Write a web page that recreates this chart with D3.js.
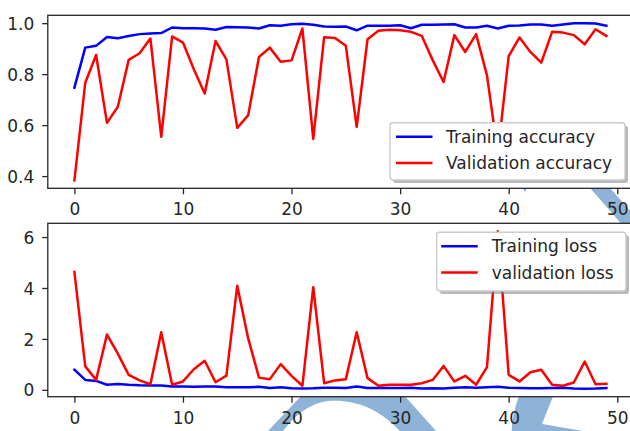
<!DOCTYPE html>
<html>
<head>
<meta charset="utf-8">
<script src="https://cdn.jsdelivr.net/npm/d3@7"></script>
<style>
  html, body { margin: 0; padding: 0; background: #fff; }
  svg { display: block; font-family: "DejaVu Sans", sans-serif; }
</style>
</head>
<body>
<svg id="chart" width="630" height="431"></svg>
<script>
// ---------------- data ----------------
const epochs = [0,1,2,3,4,5,6,7,8,9,10,11,12,13,14,15,16,17,18,19,20,21,22,23,24,25,26,27,28,29,30,31,32,33,34,35,36,37,38,39,40,41,42,43,44,45,46,47,48,49];
const trainAcc = [0.747,0.904,0.911,0.946,0.941,0.950,0.957,0.959,0.961,0.983,0.980,0.980,0.979,0.974,0.985,0.984,0.983,0.979,0.992,0.990,0.996,0.998,0.994,0.987,0.986,0.987,0.972,0.990,0.990,0.990,0.992,0.980,0.994,0.994,0.995,0.996,0.983,0.983,0.990,0.979,0.990,0.991,0.995,0.995,0.990,0.995,1.000,1.000,0.999,0.990];
const valAcc = [0.383,0.766,0.875,0.609,0.672,0.856,0.882,0.940,0.554,0.948,0.924,0.819,0.724,0.930,0.858,0.589,0.638,0.867,0.904,0.849,0.854,0.979,0.546,0.945,0.942,0.911,0.593,0.937,0.970,0.974,0.972,0.966,0.950,0.855,0.769,0.953,0.887,0.957,0.795,0.490,0.871,0.944,0.887,0.845,0.966,0.963,0.953,0.917,0.976,0.950];
const trainLoss = [0.79,0.39,0.35,0.20,0.23,0.20,0.18,0.17,0.17,0.13,0.13,0.12,0.13,0.13,0.10,0.10,0.10,0.12,0.07,0.10,0.06,0.05,0.06,0.08,0.08,0.07,0.13,0.07,0.07,0.07,0.07,0.08,0.05,0.06,0.05,0.08,0.10,0.08,0.10,0.12,0.08,0.07,0.06,0.06,0.07,0.08,0.05,0.04,0.05,0.07];
const valLoss = [4.63,0.92,0.39,2.17,1.42,0.59,0.37,0.22,2.26,0.20,0.33,0.81,1.14,0.30,0.56,4.09,2.03,0.48,0.42,1.01,0.55,0.16,4.03,0.26,0.37,0.42,2.26,0.46,0.16,0.20,0.20,0.20,0.26,0.39,0.94,0.33,0.55,0.20,0.89,6.23,0.59,0.33,0.69,0.79,0.20,0.16,0.29,1.11,0.22,0.24];
const xTicks = [0,10,20,30,40,50];
const accTicks = [0.4,0.6,0.8,1.0];
const lossTicks = [0,2,4,6];
const accLabels = ["Training accuracy","Validation accuracy"];
const lossLabels = ["Training loss","validation loss"];

// ---------------- layout ----------------
const svg = d3.select("#chart");
const FS = 17;
const INK = "#262626";
const L = 47.8, R = 633;
const panels = [
  {top: 15.3, bottom: 188.3, series: [trainAcc, valAcc], ticks: accTicks, fmt: d3.format(".1f"),
   labels: accLabels, legend: {x: 390, y: 122.7, w: 235, h: 57.3, lineX: 6, textX: 56}},
  {top: 223.3, bottom: 396.7, series: [trainLoss, valLoss], ticks: lossTicks, fmt: d3.format("d"),
   labels: lossLabels, legend: {x: 436.7, y: 232.3, w: 189.3, h: 58.7, lineX: 4.5, textX: 55}}
];
const colors = ["#0000ff", "#ff0000"];

// decorative light-blue watermark shapes behind the figure (not data)
const wm = svg.append("g").attr("fill", "#8fb3d7");
wm.append("path").attr("d", "M583,180 L603,180 L645,228 L625,228 Z");
wm.append("path").attr("d", "M520,184 L529,184 L525,192 Z");
wm.append("path").attr("d", "M268,431 L303,394 L403,394 L436,431 L400,431 C378,407 352,399 328,401 C310,403 295,415 283,431 Z");
wm.append("path").attr("d", "M520,394 L554,394 L542,424 L583,431 L511.7,431 C512,420 515,405 520,394 Z");

const x = d3.scaleLinear().domain([-2.45, 51.45]).range([L, R]);

panels.forEach(p => {
  const all = p.series.flat();
  const lo = d3.min(all), hi = d3.max(all), m = (hi - lo) * 0.05;
  const y = d3.scaleLinear().domain([lo - m, hi + m]).range([p.bottom, p.top]);
  const g = svg.append("g");

  g.append("rect").attr("x", L).attr("y", p.top).attr("width", R - L).attr("height", p.bottom - p.top)
    .attr("fill", "#fff");

  const line = d3.line().x((d, i) => x(epochs[i])).y(d => y(d));
  p.series.forEach((s, k) => {
    g.append("path").datum(s).attr("d", line).attr("fill", "none")
      .attr("stroke", colors[k]).attr("stroke-width", 2.5).attr("stroke-linejoin", "round")
      .attr("stroke-linecap", "square");
  });

  // x axis
  const xa = g.append("g").attr("transform", `translate(0,${p.bottom})`)
    .call(d3.axisBottom(x).tickValues(xTicks).tickSize(6).tickPadding(9).tickFormat(d3.format("d")));
  // y axis
  const ya = g.append("g").attr("transform", `translate(${L},0)`)
    .call(d3.axisLeft(y).tickValues(p.ticks).tickSize(5.6).tickPadding(8).tickFormat(p.fmt));
  [xa, ya].forEach(a => {
    a.select(".domain").remove();
    a.selectAll(".tick line").attr("stroke", INK).attr("stroke-width", 1.3);
    a.selectAll(".tick text").attr("fill", INK).attr("font-size", FS)
      .attr("font-family", "DejaVu Sans, sans-serif");
  });
  ya.selectAll(".tick text").attr("dy", "0.36em");

  // spines
  g.append("rect").attr("x", L).attr("y", p.top).attr("width", R - L).attr("height", p.bottom - p.top)
    .attr("fill", "none").attr("stroke", INK).attr("stroke-width", 1.3);

  // legend
  const lg = p.legend;
  const leg = svg.append("g").attr("transform", `translate(${lg.x},${lg.y})`);
  leg.append("rect").attr("x", 3).attr("y", 3).attr("width", lg.w).attr("height", lg.h)
    .attr("rx", 3).attr("fill", "#7f7f7f").attr("opacity", 0.55);
  leg.append("rect").attr("width", lg.w).attr("height", lg.h).attr("rx", 3)
    .attr("fill", "#fff").attr("stroke", "#cccccc").attr("stroke-width", 1.4);
  p.labels.forEach((t, k) => {
    const yy = 14 + k * 26.3;
    leg.append("line").attr("x1", lg.lineX).attr("x2", lg.lineX + 36.5).attr("y1", yy).attr("y2", yy)
      .attr("stroke", colors[k]).attr("stroke-width", 2.5);
    leg.append("text").attr("x", lg.textX).attr("y", yy).attr("dy", "0.36em")
      .attr("font-size", FS).attr("fill", INK).text(t);
  });
});
</script>
</body>
</html>
